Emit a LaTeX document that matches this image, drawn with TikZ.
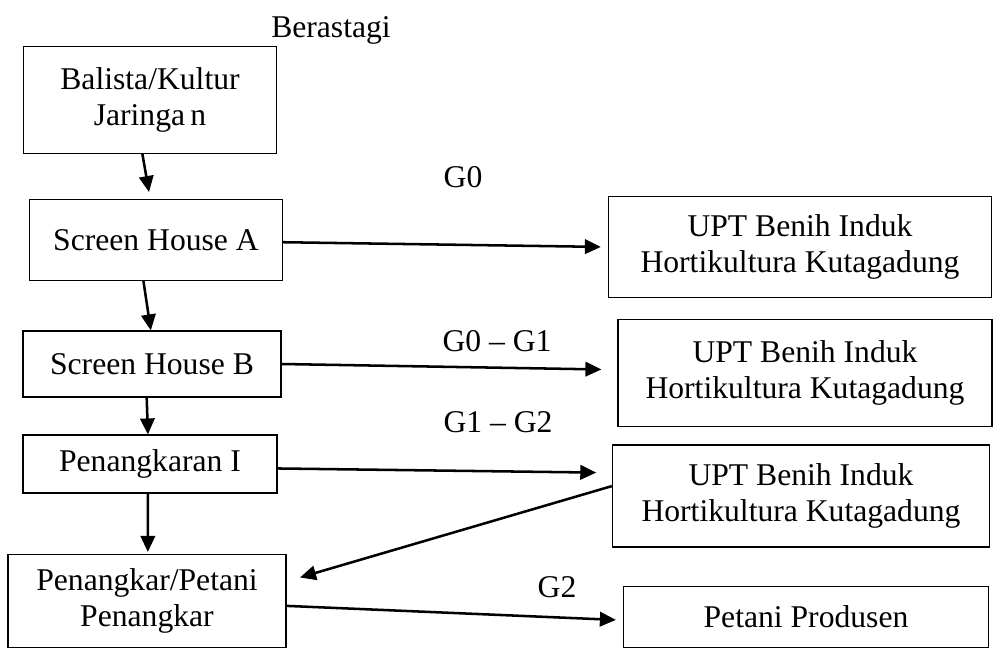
\documentclass[tikz,border=0pt]{standalone}
\usepackage{fontspec}
\setmainfont{Liberation Serif}
\usetikzlibrary{arrows.meta}

\begin{document}
\begin{tikzpicture}[x=0.025cm,y=-0.025cm,
    every node/.style={font=\fontsize{22.5}{25}\selectfont},
    box/.style={draw,line width=0.8pt,align=center,inner sep=2pt},
    conn/.style={line width=1.8pt,-{Triangle[length=0.4cm,width=0.36cm]}},
    lab/.style={anchor=base}]
  \useasboundingbox (0,0) rectangle (994,652);
  % left column
  \node[box,minimum width=6.325cm,minimum height=2.675cm] (balista) at (150,100) {Balista/Kultur\\Jaringa\,n};
  \node[box,minimum width=6.325cm,minimum height=2.025cm] (shA) at (156,240) {Screen House A};
  \node[box,minimum width=6.45cm,minimum height=1.65cm] (shB) at (152,364) {Screen House B};
  \node[box,minimum width=6.35cm,minimum height=1.45cm] (pkI) at (150,464) {Penangkaran I};
  \node[box,minimum width=6.95cm,minimum height=2.325cm] (pkr) at (147,601) {Penangkar/Petani\\Penangkar};
  % right column
  \node[box,minimum width=9.575cm,minimum height=2.525cm] (upt1) at (800,247) {UPT Benih Induk\\Hortikultura Kutagadung};
  \node[box,minimum width=9.35cm,minimum height=2.675cm] (upt2) at (805,373) {UPT Benih Induk\\Hortikultura Kutagadung};
  \node[box,minimum width=9.425cm,minimum height=2.55cm] (upt3) at (801,496) {UPT Benih Induk\\Hortikultura Kutagadung};
  \node[box,minimum width=9.125cm,minimum height=1.525cm] (prod) at (806,617) {Petani Produsen};
  % labels
  \node[lab] (berastagi) at (331,37) {Berastagi};
  \node[lab] (g0) at (463,187) {G0};
  \node[lab] (g01) at (497,351) {G0 -- G1};
  \node[lab] (g12) at (498,432) {G1 -- G2};
  \node[lab] (g2) at (557,597) {G2};
  % arrows down
  \draw[conn,shorten >=0.175cm] (balista.262) -- (shA.98);
  \draw[conn] (shA.253) -- (shB.92);
  \draw[conn] (shB.261) -- (pkI.94);
  \draw[conn,shorten >=0.05cm] (pkI.266) -- (pkr.89);
  % arrows across
  \draw[conn,shorten >=0.175cm] (shA.-1) -- (upt1.180);
  \draw[conn,shorten >=0.4cm] (shB.east) -- (upt2.179);
  \draw[conn,shorten >=0.39cm] (pkI.-2) -- (upt3.173);
  \draw[conn,shorten >=0.35cm] (upt3.177) -- (pkr.8);
  \draw[conn,shorten >=0.175cm] (pkr.-2) -- (prod.181);
\end{tikzpicture}
\end{document}
